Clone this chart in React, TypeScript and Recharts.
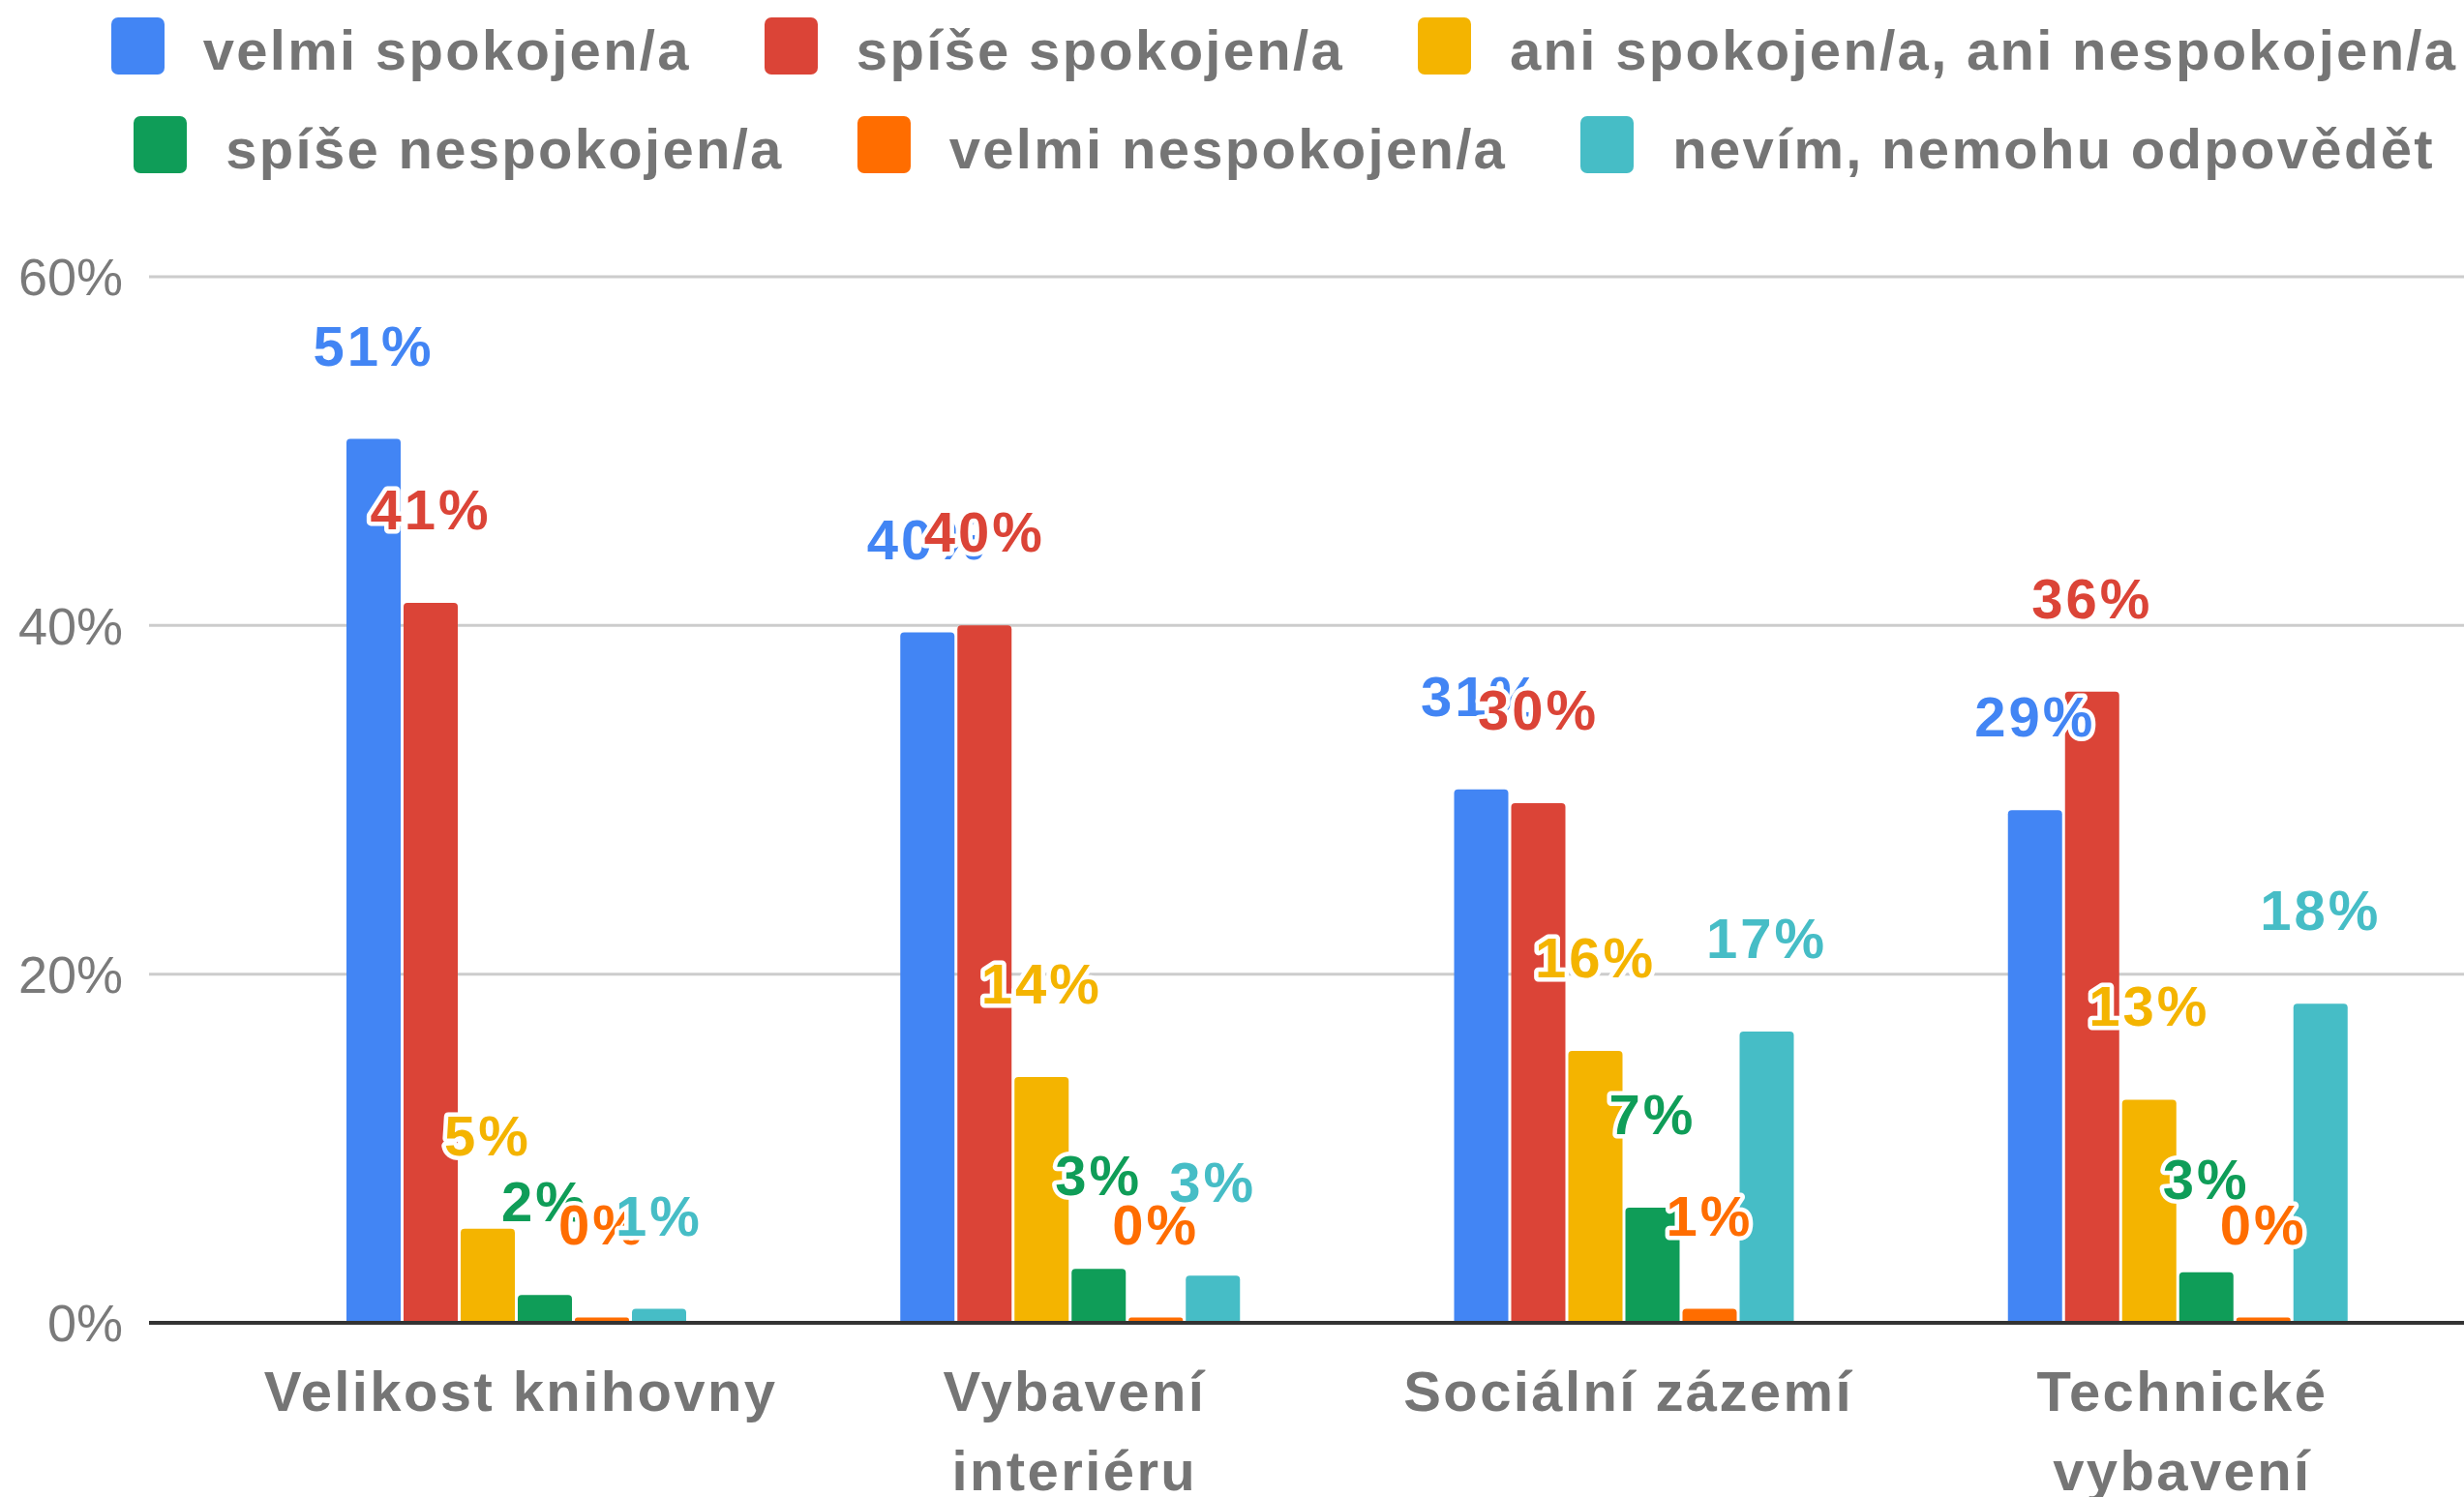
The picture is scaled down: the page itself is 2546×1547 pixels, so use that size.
import React from 'react';
import { BarChart, Bar, XAxis, YAxis, CartesianGrid, LabelList } from 'recharts';

const categories = ['Velikost knihovny', 'Vybavení interiéru', 'Sociální zázemí', 'Technické vybavení'];
const xTickLabels = ['Velikost knihovny', 'Vybavení\ninteriéru', 'Sociální zázemí', 'Technické\nvybavení'];

const seriesNames = [
  'velmi spokojen/a',
  'spíše spokojen/a',
  'ani spokojen/a, ani nespokojen/a',
  'spíše nespokojen/a',
  'velmi nespokojen/a',
  'nevím, nemohu odpovědět',
];
const seriesColors = ['#4285F4', '#DB4437', '#F4B400', '#0F9D58', '#FF6D00', '#46BDC6'];

const velmiSpokojen = [50.7, 39.6, 30.6, 29.4];
const spiseSpokojen = [41.3, 40.0, 29.8, 36.2];
const aniSpokojenAniNespokojen = [5.4, 14.1, 15.6, 12.8];
const spiseNespokojen = [1.6, 3.1, 6.6, 2.9];
const velmiNespokojen = [0.3, 0.3, 0.8, 0.3];
const nevim = [0.8, 2.7, 16.7, 18.3];

const yTicks = [0, 20, 40, 60];

const seriesValues = [velmiSpokojen, spiseSpokojen, aniSpokojenAniNespokojen, spiseNespokojen, velmiNespokojen, nevim];
const seriesKeys = ['s0', 's1', 's2', 's3', 's4', 's5'];

const data = categories.map((c, i) => {
  const row: any = { category: c, tick: xTickLabels[i] };
  seriesKeys.forEach((k, s) => {
    row[k] = seriesValues[s][i];
  });
  return row;
});

const FONT = "'Liberation Sans', Arial, sans-serif";
const GRAY = '#757575';
const W = 2546;
const H = 1547;
const TOP = 286;
const LEFT = 154;
const XH = 180;
const XPAD = { left: 93, right: 10 };

const YTick = (props: any) => {
  const { x, y, payload } = props;
  return (
    <text x={x} y={y} dy="0.36em" textAnchor="end" fill="#7a7a7a" fontSize={54} fontFamily={FONT}>
      {payload.value}%
    </text>
  );
};

const XTick = (props: any) => {
  const { x, y, payload } = props;
  const idx = categories.indexOf(payload.value);
  const lines = (idx >= 0 ? xTickLabels[idx] : String(payload.value)).split('\n');
  return (
    <g>
      {lines.map((l, i) => (
        <text
          key={i}
          x={x + 5}
          y={y + 91 + i * 82}
          textAnchor="middle"
          fill={GRAY}
          fontSize={58}
          fontWeight="bold"
          letterSpacing={2.4}
          fontFamily={FONT}
        >
          {l}
        </text>
      ))}
    </g>
  );
};

const makeLabel = (color: string) => (props: any) => {
  const { x, y, width, value } = props;
  const cx = Number(x) + Number(width) / 2;
  return (
    <text
      x={cx}
      y={Number(y) - 76}
      textAnchor="middle"
      fill={color}
      stroke="#ffffff"
      strokeWidth={9}
      strokeLinejoin="round"
      paintOrder="stroke"
      fontSize={58}
      fontWeight="bold"
      letterSpacing={3}
      fontFamily={FONT}
    >
      {Math.round(Number(value))}%
    </text>
  );
};

const LegendRow = ({ items }: { items: number[] }) => (
  <div style={{ display: 'flex', justifyContent: 'center', alignItems: 'center', height: 102, paddingLeft: 108 }}>
    {items.map((s, i) => (
      <div key={s} style={{ display: 'flex', alignItems: 'center', marginLeft: i === 0 ? 0 : 76 }}>
        <div style={{ width: 55, height: 59, borderRadius: 7, background: seriesColors[s], marginRight: 40 }} />
        <span
          style={{
            fontFamily: FONT,
            fontWeight: 'bold',
            fontSize: 58,
            letterSpacing: 2.3,
            color: GRAY,
            lineHeight: '59px',
            whiteSpace: 'nowrap',
            position: 'relative',
            top: 4,
          }}
        >
          {seriesNames[s]}
        </span>
      </div>
    ))}
  </div>
);

export default function App() {
  return (
    <div style={{ position: 'relative', width: W, height: H, background: '#fff', overflow: 'hidden' }}>
      <style>{`body{margin:0}`}</style>
      <div style={{ position: 'absolute', left: 0, top: -4, width: W }}>
        <LegendRow items={[0, 1, 2]} />
        <LegendRow items={[3, 4, 5]} />
      </div>
      <div style={{ position: 'absolute', left: 0, top: 0 }}>
        <BarChart width={W} height={H} data={data} margin={{ top: TOP, right: 0, left: 0, bottom: 0 }} barSize={56} barGap={3}>
          <CartesianGrid vertical={false} stroke="#cccccc" strokeWidth={3} />
          <XAxis
            dataKey="category"
            height={XH}
            padding={XPAD}
            axisLine={{ stroke: '#333333', strokeWidth: 4 }}
            tickLine={false}
            tickSize={0}
            tickMargin={0}
            tick={<XTick />}
            interval={0}
          />
          <YAxis
            width={LEFT}
            domain={[0, 60]}
            ticks={yTicks}
            axisLine={false}
            tickLine={false}
            tickSize={0}
            tickMargin={27}
            tick={<YTick />}
          />
          {seriesKeys.map((k, s) => (
            <Bar key={k} dataKey={k} name={seriesNames[s]} fill={seriesColors[s]} radius={[4, 4, 0, 0]} isAnimationActive={false} />
          ))}
        </BarChart>
      </div>
      <div style={{ position: 'absolute', left: 0, top: 0 }}>
        <BarChart width={W} height={H} data={data} margin={{ top: TOP, right: 0, left: LEFT, bottom: XH }} barSize={56} barGap={3}>
          <XAxis dataKey="category" hide padding={XPAD} />
          <YAxis hide domain={[0, 60]} ticks={yTicks} />
          {seriesKeys.map((k, s) => (
            <Bar key={k} dataKey={k} fill="none" fillOpacity={0} isAnimationActive={false}>
              <LabelList dataKey={k} content={makeLabel(seriesColors[s])} />
            </Bar>
          ))}
        </BarChart>
      </div>
    </div>
  );
}
